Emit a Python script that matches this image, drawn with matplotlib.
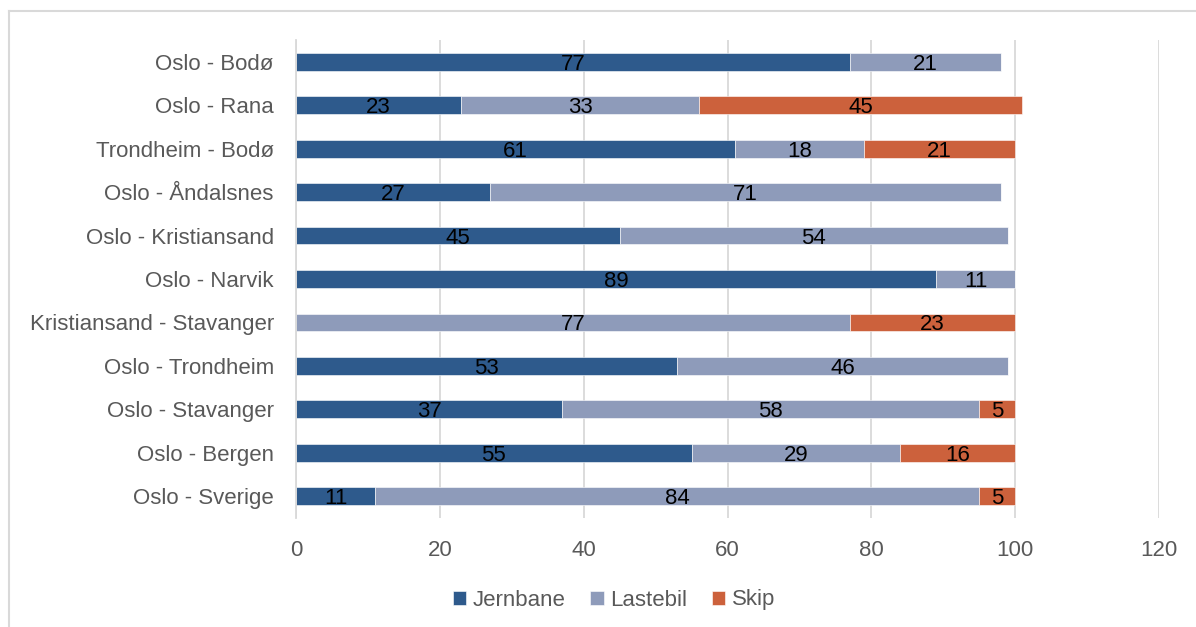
import numpy as np
import matplotlib.pyplot as plt
from matplotlib.lines import Line2D

plt.rcParams['font.family'] = ['Liberation Sans', 'DejaVu Sans']

routes = ["Oslo - Bodø", "Oslo - Rana", "Trondheim - Bodø", "Oslo - Åndalsnes",
          "Oslo - Kristiansand", "Oslo - Narvik", "Kristiansand - Stavanger",
          "Oslo - Trondheim", "Oslo - Stavanger", "Oslo - Bergen", "Oslo - Sverige"]
jernbane = [77, 23, 61, 27, 45, 89, 0, 53, 37, 55, 11]
lastebil = [21, 33, 18, 71, 54, 11, 77, 46, 58, 29, 84]
skip = [0, 45, 21, 0, 0, 0, 23, 0, 5, 16, 5]

series = [("Jernbane", jernbane, "#2E5A8C"),
          ("Lastebil", lastebil, "#8E9BBA"),
          ("Skip", skip, "#CC613C")]

fig = plt.figure(figsize=(11.96, 6.27), dpi=100)
ax = fig.add_axes([296 / 1196, 1 - 518 / 627, 863 / 1196, 478 / 627])

y = np.arange(len(routes))
left = np.zeros(len(routes))
for name, vals, color in series:
    vals = np.array(vals, dtype=float)
    bars = ax.barh(y, vals, left=left, height=0.41, color=color, label=name,
                   edgecolor="white", linewidth=0.4, zorder=2)
    for b, v in zip(bars, vals):
        if v > 0:
            ax.text(b.get_x() + b.get_width() / 2, b.get_y() + b.get_height() / 2,
                    f"{v:.0f}", ha="center", va="center_baseline", fontsize=16,
                    color="black", zorder=3)
    left += vals

ax.set_xlim(0, 120)
ax.set_ylim(len(routes) - 0.5, -0.5)
ax.set_xticks(range(0, 121, 20))
ax.set_yticks(y)
ax.set_yticklabels(routes)
ax.xaxis.grid(True, color="#D9D9D9", linewidth=1.3, zorder=0)
ax.set_axisbelow(True)
for s in ["top", "right", "bottom"]:
    ax.spines[s].set_visible(False)
ax.spines["left"].set_color("#D9D9D9")
ax.spines["left"].set_linewidth(1.3)
ax.tick_params(axis="both", length=0, labelsize=16, labelcolor="#595959")
ax.tick_params(axis="x", pad=16)
ax.tick_params(axis="y", pad=16)

fig.legend(loc="center", bbox_to_anchor=(614 / 1196, 1 - 600 / 627), ncol=3,
           frameon=False, fontsize=16, labelcolor="#595959", handlelength=0.6,
           handleheight=0.6, handletextpad=0.3, columnspacing=1.1)

# outer chart frame (top and left edges only)
fig.add_artist(Line2D([9 / 1196, 1], [1 - 11 / 627, 1 - 11 / 627],
                      transform=fig.transFigure, color="#D9D9D9", linewidth=1.5))
fig.add_artist(Line2D([9 / 1196, 9 / 1196], [0, 1 - 11 / 627],
                      transform=fig.transFigure, color="#D9D9D9", linewidth=1.5))

fig.savefig("out.png", dpi=100, facecolor="white")
